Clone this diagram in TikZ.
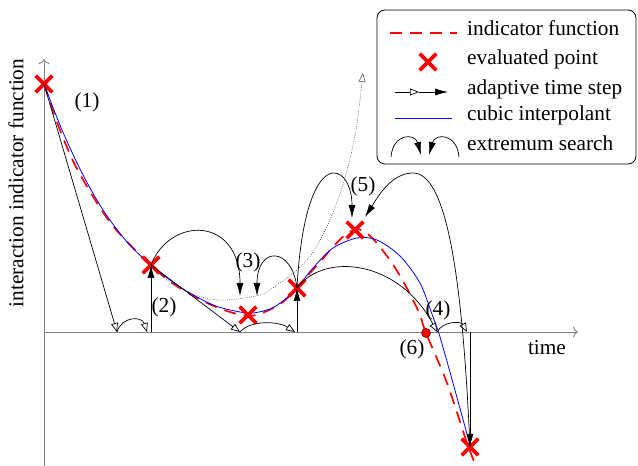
\documentclass[tikz,border=0pt]{standalone}
\usepackage{fontspec}
\setmainfont{Liberation Serif}
\usetikzlibrary{arrows.meta,positioning,shapes.misc}

\begin{document}
\begin{tikzpicture}[
  x=1pt, y=1pt,
  font=\fontsize{21.3}{25}\selectfont,
  axis/.style={draw=gray, line width=0.9pt, -{To[length=5pt, width=11pt]}},
  indicator/.style={red, line width=1.7pt, dash pattern=on 12pt off 8pt},
  interp/.style={blue, line width=0.8pt},
  evalpt/.style={cross out, draw=red, line width=3.6pt, minimum size=13pt, inner sep=0pt},
  rootpt/.style={circle, fill=red, draw=red!45!black, line width=0.6pt, minimum size=9pt, inner sep=0pt},
  steparrow/.style={line width=0.7pt, -{Triangle[open, length=9pt, width=7pt]}},
  hitarrow/.style={line width=0.7pt, -{Latex[length=13pt, width=7pt]}},
  rejected/.style={gray!70!black, line width=0.6pt, dash pattern=on 0.8pt off 1.4pt,
    -{Triangle[open, length=9pt, width=7pt]}},
  tag/.style={inner sep=1pt},
  entry/.style={anchor=west, inner sep=0pt, text height=0.7em, text depth=0.2em},
]
  \useasboundingbox (0,0) rectangle (638,466);

  % axes
  \coordinate (ybot) at (44,0);
  \coordinate (ytop) at (44,407);
  \coordinate (xbeg) at (44,134);
  \coordinate (xend) at (578,134);
  \draw[axis] (ybot) -- (ytop);
  \draw[axis] (xbeg) -- (xend);
  \node[rotate=90] (ylab) at (16,283) {interaction indicator function};
  \node (xlab) at (547,118) {time};

  % curves
  \draw[indicator] plot[smooth] coordinates {(44,382) (58,341) (75,301) (97,263) (113,240)
    (135,216) (151,200) (175,181) (205,164) (230,154) (250,150) (267,155) (283,164)
    (297,178) (310,193) (320,204) (332,218) (345,231) (357,237) (369,231) (380,219)
    (392,203) (403,185) (413,166) (420,151) (426,133) (447,83) (467,23) (476,0)};
  \draw[interp] plot[smooth] coordinates {(44,382) (62,336) (82,293) (103,256) (127,224)
    (151,201) (180,179) (213,161) (240,154) (253,153) (270,157) (283,165) (297,178)
    (313,198) (333,218) (357,228) (377,226) (400,210) (420,183) (433,149) (440,129)
    (453,83) (470,21)};
  \draw[rejected] plot[smooth] coordinates {(151,200) (170,184) (190,173) (210,167)
    (227,166) (260,171) (280,183) (297,196) (313,214) (330,246) (345,288) (356,336)
    (363,393)};

  % evaluated points
  \node[evalpt] (p1) at (44,382) {};
  \node[evalpt] (p2) at (151,201) {};
  \node[evalpt] (p3) at (248,151) {};
  \node[evalpt] (p4) at (297,178) {};
  \node[evalpt] (p5) at (355,236) {};
  \node[evalpt] (p6) at (470,19) {};
  \node[rootpt] (r6) at (426,133) {};

  % time steps
  \coordinate (f1) at (117,134);
  \coordinate (f2) at (147,134);
  \coordinate (v2) at (151,134);
  \coordinate (f3) at (240,134);
  \coordinate (f4) at (295,134);
  \coordinate (v4) at (297,134);
  \coordinate (f5) at (437,134);
  \coordinate (f6) at (467,134);
  \coordinate (v6) at (470,134);
  \draw[steparrow] (p1.center) -- (f1);
  \draw[steparrow] (f1) .. controls (122,150) and (142,150) .. (f2);
  \draw[hitarrow] (v2) -- (p2.center);
  \draw[steparrow] (p2.center) -- (f3);
  \draw[steparrow] (f3) .. controls (250,146) and (278,145) .. (f4);
  \draw[hitarrow] (v4) -- (p4.center);
  \draw[steparrow] (p4.center) .. controls (325,215) and (400,205) .. (f5);
  \draw[steparrow] (f5) .. controls (443,145) and (461,145) .. (f6);
  \draw[hitarrow] (v6) -- (p6.center);

  % extremum search
  \coordinate (t3a) at (240,170);
  \coordinate (t3b) at (257,170);
  \coordinate (t5a) at (352,248);
  \coordinate (t5b) at (365,249);
  \draw[hitarrow] (p2.center) .. controls (170,250) and (240,250) .. (t3a);
  \draw[hitarrow] (p4.center) .. controls (292,220) and (257,220) .. (t3b);
  \draw[hitarrow] (p4.center) .. controls (305,325) and (352,305) .. (t5a);
  \draw[hitarrow] (p6.center) .. controls (462,200) and (445,293) .. (413,293)
    .. controls (390,293) and (376,266) .. (t5b);

  \node[tag] (l1) at (87,364) {(1)};
  \node[tag] (l2) at (164,159) {(2)};
  \node[tag] (l3) at (248,204) {(3)};
  \node[tag] (l4) at (438,156) {(4)};
  \node[tag] (l5) at (363,280) {(5)};
  \node[tag] (l6) at (412,117) {(6)};

  % legend
  \draw[line width=0.8pt, rounded corners=8pt] (377,302) rectangle (636,456);
  \coordinate (k1a) at (390,433);
  \coordinate (k1b) at (457,433);
  \coordinate (k3a) at (395,374);
  \coordinate (k3m) at (419,374);
  \coordinate (k3b) at (448,374);
  \coordinate (k4a) at (395,348);
  \coordinate (k4b) at (452,348);
  \coordinate (k5a) at (391,309);
  \coordinate (k5b) at (421,311);
  \coordinate (k5c) at (459,309);
  \coordinate (k5d) at (429,311);
  \draw[indicator] (k1a) -- (k1b);
  \node[evalpt] (k2) at (428,404) {};
  \draw[steparrow] (k3a) -- (k3m);
  \draw[hitarrow] (k3m) -- (k3b);
  \draw[interp] (k4a) -- (k4b);
  \draw[hitarrow] (k5a) .. controls (393,333) and (415,333) .. (k5b);
  \draw[hitarrow] (k5c) .. controls (457,333) and (435,333) .. (k5d);
  \node[entry] (e1) at (467,433) {indicator function};
  \node[entry] (e2) at (467,404) {evaluated point};
  \node[entry] (e3) at (467,374) {adaptive time step};
  \node[entry] (e4) at (467,348) {cubic interpolant};
  \node[entry] (e5) at (467,318) {extremum search};
\end{tikzpicture}
\end{document}
